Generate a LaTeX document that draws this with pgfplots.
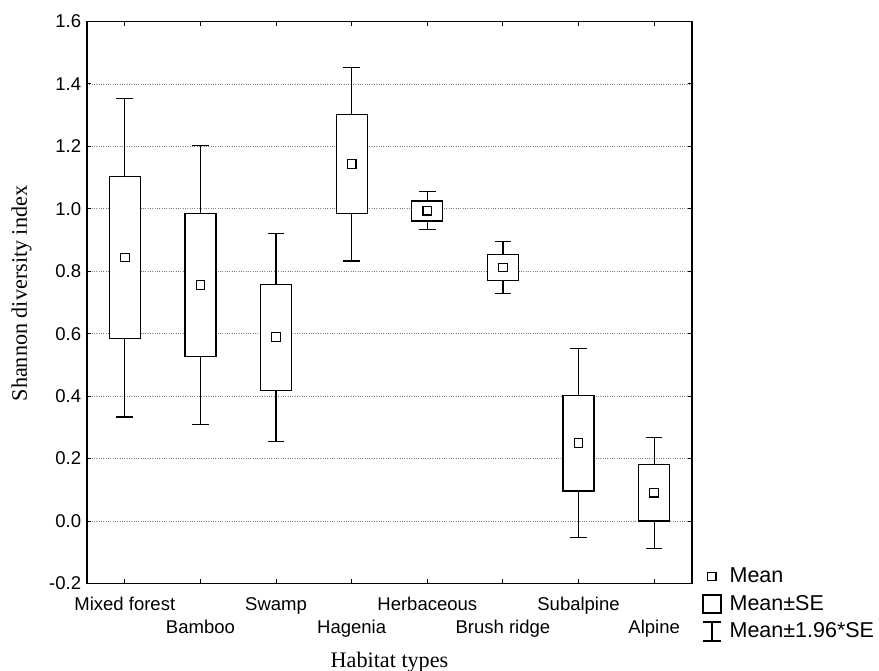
\documentclass[border=0pt]{standalone}
\usepackage{fontspec}
\setmainfont{Liberation Sans}
\newfontfamily\timesfont{Liberation Serif}
\usepackage{pgfplots}
\pgfplotsset{compat=1.18}
\usepgfplotslibrary{statistics}

\pgfplotsset{bx/.style={forget plot, black, line width=0.75pt, fill=white}}

\begin{document}
\begin{tikzpicture}
\begin{axis}[
  scale only axis, width=363pt, height=337.2pt,
  xmin=0.5, xmax=8.5, ymin=-0.2, ymax=1.6,
  xtick={1,2,3,4,5,6,7,8},
  xticklabels={Mixed forest, \raisebox{-13.8pt}{Bamboo}, Swamp, \raisebox{-13.8pt}{Hagenia}, Herbaceous, \raisebox{-13.8pt}{Brush ridge}, Subalpine, \raisebox{-13.8pt}{Alpine}},
  ytick={-0.2,0,0.2,0.4,0.6,0.8,1.0,1.2,1.4,1.6},
  yticklabel style={/pgf/number format/fixed, /pgf/number format/fixed zerofill, /pgf/number format/precision=1},
  /pgf/number format/assume math mode=true,
  tick label style={font=\fontsize{11.1}{13.5}\selectfont},
  xticklabel style={anchor=base, yshift=-15.9pt},
  tick align=inside, tick pos=both, major tick length=2.5pt,
  tick style={black, line width=0.6pt},
  ymajorgrids, grid style={densely dotted, gray, line width=0.5pt},
  axis line style={line width=0.75pt},
  xlabel={Habitat types}, ylabel={Shannon diversity index},
  label style={font=\timesfont\fontsize{13.3}{15}\selectfont},
  xlabel style={at={(axis description cs:0.5,-0.1486)}, anchor=base},
  ylabel style={at={(axis description cs:-0.0992,0.516)}, anchor=base},
  boxplot/draw direction=y,
  boxplot/box extend=0.41, boxplot/whisker extend=0.22,
  boxplot/draw/median/.code={},
  legend style={at={(axis description cs:1,0)}, anchor=north west, xshift=6pt, yshift=11.5pt, draw=none, fill=none, font=\fontsize{12.9}{15}\selectfont, inner sep=0pt, row sep=2pt},
  legend cell align=left,
]
\addlegendimage{legend image code/.code={\draw[fill=white, line width=0.7pt] (2.8pt,-2.5pt) rectangle (7.8pt,2.5pt); \path (13.8pt,0);}}
\addlegendentry{Mean}
\addlegendimage{legend image code/.code={\draw[fill=white, line width=0.75pt] (0pt,-5.4pt) rectangle (10.8pt,5.4pt); \path (13.8pt,0);}}
\addlegendentry{Mean±SE}
\addlegendimage{legend image code/.code={\draw[line width=0.75pt] (0pt,5.7pt)--(10.8pt,5.7pt) (5.4pt,5.7pt)--(5.4pt,-5.7pt) (0pt,-5.7pt)--(10.8pt,-5.7pt); \path (13.8pt,0);}}
\addlegendentry{Mean±1.96*SE}

% whiskers = Mean +/- 1.96*SE, box = Mean +/- SE
\addplot[bx, boxplot prepared={draw position=1, lower whisker=0.333, lower quartile=0.584, median=0.844, upper quartile=1.103, upper whisker=1.353}] coordinates {};
\addplot[bx, boxplot prepared={draw position=2, lower whisker=0.309, lower quartile=0.528, median=0.756, upper quartile=0.985, upper whisker=1.203}] coordinates {};
\addplot[bx, boxplot prepared={draw position=3, lower whisker=0.255, lower quartile=0.418, median=0.589, upper quartile=0.758, upper whisker=0.922}] coordinates {};
\addplot[bx, boxplot prepared={draw position=4, lower whisker=0.833, lower quartile=0.986, median=1.144, upper quartile=1.301, upper whisker=1.453}] coordinates {};
\addplot[bx, boxplot prepared={draw position=5, lower whisker=0.933, lower quartile=0.961, median=0.994, upper quartile=1.025, upper whisker=1.056}] coordinates {};
\addplot[bx, boxplot prepared={draw position=6, lower whisker=0.730, lower quartile=0.770, median=0.812, upper quartile=0.853, upper whisker=0.895}] coordinates {};
\addplot[bx, boxplot prepared={draw position=7, lower whisker=-0.053, lower quartile=0.096, median=0.250, upper quartile=0.403, upper whisker=0.552}] coordinates {};
\addplot[bx, boxplot prepared={draw position=8, lower whisker=-0.089, lower quartile=0.000, median=0.091, upper quartile=0.181, upper whisker=0.268}] coordinates {};

\addplot[forget plot, only marks, mark=square*, mark size=2.6pt, mark options={fill=white, draw=black, line width=0.7pt}] coordinates {
(1,0.844) (2,0.756) (3,0.589) (4,1.144) (5,0.994) (6,0.812) (7,0.250) (8,0.091)};
\end{axis}
\pgfresetboundingbox
\path (current axis.south west) ++(-52.2pt,-51.9pt) rectangle ++(527.4pt,402pt);
\end{tikzpicture}
\end{document}
